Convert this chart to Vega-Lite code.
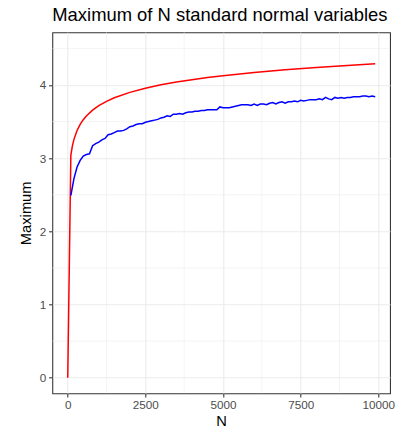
{
  "$schema": "https://vega.github.io/schema/vega-lite/v6.json",
  "width": 337.7,
  "height": 361,
  "autosize": "none",
  "padding": {"left": 52.3, "top": 32.3, "right": 14, "bottom": 38.7},
  "background": "white",
  "title": {
    "text": "Maximum of N standard normal variables",
    "anchor": "start",
    "frame": "group",
    "font": "Liberation Sans",
    "fontSize": 18.4,
    "fontWeight": "normal",
    "color": "black",
    "baseline": "alphabetic",
    "offset": 0,
    "dy": 7
  },
  "config": {
    "view": {"stroke": "#333333", "strokeWidth": 1.07},
    "axis": {
      "domain": false,
      "grid": true,
      "gridColor": "#EBEBEB",
      "gridWidth": 1.07,
      "tickColor": "#333333",
      "tickWidth": 1.07,
      "tickSize": 3.7,
      "labelColor": "#4D4D4D",
      "labelFont": "Liberation Sans",
      "labelFontSize": 11.7,
      "labelPadding": 2.9,
      "labelFlush": false,
      "labelOverlap": false,
      "titleFont": "Liberation Sans",
      "titleFontSize": 14.7,
      "titleFontWeight": "normal",
      "titleColor": "black"
    }
  },
  "datasets": {
    "curves": [
      {"N": 1, "value": 0, "series": "bound"},
      {"N": 101, "value": 3.038, "series": "bound"},
      {"N": 151, "value": 3.168, "series": "bound"},
      {"N": 201, "value": 3.257, "series": "bound"},
      {"N": 301, "value": 3.378, "series": "bound"},
      {"N": 401, "value": 3.462, "series": "bound"},
      {"N": 501, "value": 3.526, "series": "bound"},
      {"N": 601, "value": 3.577, "series": "bound"},
      {"N": 801, "value": 3.657, "series": "bound"},
      {"N": 1001, "value": 3.717, "series": "bound"},
      {"N": 1251, "value": 3.777, "series": "bound"},
      {"N": 1501, "value": 3.825, "series": "bound"},
      {"N": 2001, "value": 3.899, "series": "bound"},
      {"N": 2501, "value": 3.956, "series": "bound"},
      {"N": 3001, "value": 4.002, "series": "bound"},
      {"N": 3501, "value": 4.040, "series": "bound"},
      {"N": 4001, "value": 4.073, "series": "bound"},
      {"N": 4501, "value": 4.102, "series": "bound"},
      {"N": 5001, "value": 4.127, "series": "bound"},
      {"N": 6001, "value": 4.171, "series": "bound"},
      {"N": 7001, "value": 4.208, "series": "bound"},
      {"N": 8001, "value": 4.240, "series": "bound"},
      {"N": 9001, "value": 4.267, "series": "bound"},
      {"N": 9901, "value": 4.290, "series": "bound"},
      {"N": 101, "value": 2.49, "series": "simulated"},
      {"N": 201, "value": 2.72, "series": "simulated"},
      {"N": 301, "value": 2.88, "series": "simulated"},
      {"N": 401, "value": 2.97, "series": "simulated"},
      {"N": 501, "value": 3.03, "series": "simulated"},
      {"N": 601, "value": 3.05, "series": "simulated"},
      {"N": 701, "value": 3.06, "series": "simulated"},
      {"N": 801, "value": 3.17, "series": "simulated"},
      {"N": 901, "value": 3.20, "series": "simulated"},
      {"N": 1001, "value": 3.22, "series": "simulated"},
      {"N": 1101, "value": 3.25, "series": "simulated"},
      {"N": 1201, "value": 3.27, "series": "simulated"},
      {"N": 1301, "value": 3.32, "series": "simulated"},
      {"N": 1401, "value": 3.33, "series": "simulated"},
      {"N": 1501, "value": 3.35, "series": "simulated"},
      {"N": 1601, "value": 3.37, "series": "simulated"},
      {"N": 1701, "value": 3.37, "series": "simulated"},
      {"N": 1801, "value": 3.38, "series": "simulated"},
      {"N": 1901, "value": 3.40, "series": "simulated"},
      {"N": 2001, "value": 3.43, "series": "simulated"},
      {"N": 2101, "value": 3.44, "series": "simulated"},
      {"N": 2201, "value": 3.46, "series": "simulated"},
      {"N": 2301, "value": 3.47, "series": "simulated"},
      {"N": 2401, "value": 3.47, "series": "simulated"},
      {"N": 2501, "value": 3.49, "series": "simulated"},
      {"N": 2601, "value": 3.50, "series": "simulated"},
      {"N": 2701, "value": 3.51, "series": "simulated"},
      {"N": 2801, "value": 3.52, "series": "simulated"},
      {"N": 2901, "value": 3.53, "series": "simulated"},
      {"N": 3001, "value": 3.55, "series": "simulated"},
      {"N": 3101, "value": 3.56, "series": "simulated"},
      {"N": 3201, "value": 3.58, "series": "simulated"},
      {"N": 3301, "value": 3.57, "series": "simulated"},
      {"N": 3401, "value": 3.60, "series": "simulated"},
      {"N": 3501, "value": 3.60, "series": "simulated"},
      {"N": 3601, "value": 3.61, "series": "simulated"},
      {"N": 3701, "value": 3.60, "series": "simulated"},
      {"N": 3801, "value": 3.62, "series": "simulated"},
      {"N": 3901, "value": 3.63, "series": "simulated"},
      {"N": 4001, "value": 3.63, "series": "simulated"},
      {"N": 4101, "value": 3.64, "series": "simulated"},
      {"N": 4201, "value": 3.64, "series": "simulated"},
      {"N": 4301, "value": 3.65, "series": "simulated"},
      {"N": 4401, "value": 3.65, "series": "simulated"},
      {"N": 4501, "value": 3.66, "series": "simulated"},
      {"N": 4601, "value": 3.66, "series": "simulated"},
      {"N": 4701, "value": 3.66, "series": "simulated"},
      {"N": 4801, "value": 3.66, "series": "simulated"},
      {"N": 4901, "value": 3.70, "series": "simulated"},
      {"N": 5001, "value": 3.69, "series": "simulated"},
      {"N": 5101, "value": 3.69, "series": "simulated"},
      {"N": 5201, "value": 3.69, "series": "simulated"},
      {"N": 5301, "value": 3.70, "series": "simulated"},
      {"N": 5401, "value": 3.71, "series": "simulated"},
      {"N": 5501, "value": 3.72, "series": "simulated"},
      {"N": 5601, "value": 3.73, "series": "simulated"},
      {"N": 5701, "value": 3.73, "series": "simulated"},
      {"N": 5801, "value": 3.73, "series": "simulated"},
      {"N": 5901, "value": 3.72, "series": "simulated"},
      {"N": 6001, "value": 3.74, "series": "simulated"},
      {"N": 6101, "value": 3.72, "series": "simulated"},
      {"N": 6201, "value": 3.74, "series": "simulated"},
      {"N": 6301, "value": 3.74, "series": "simulated"},
      {"N": 6401, "value": 3.73, "series": "simulated"},
      {"N": 6501, "value": 3.75, "series": "simulated"},
      {"N": 6601, "value": 3.76, "series": "simulated"},
      {"N": 6701, "value": 3.74, "series": "simulated"},
      {"N": 6801, "value": 3.76, "series": "simulated"},
      {"N": 6901, "value": 3.77, "series": "simulated"},
      {"N": 7001, "value": 3.75, "series": "simulated"},
      {"N": 7101, "value": 3.77, "series": "simulated"},
      {"N": 7201, "value": 3.77, "series": "simulated"},
      {"N": 7301, "value": 3.78, "series": "simulated"},
      {"N": 7401, "value": 3.77, "series": "simulated"},
      {"N": 7501, "value": 3.79, "series": "simulated"},
      {"N": 7601, "value": 3.78, "series": "simulated"},
      {"N": 7701, "value": 3.79, "series": "simulated"},
      {"N": 7801, "value": 3.80, "series": "simulated"},
      {"N": 7901, "value": 3.80, "series": "simulated"},
      {"N": 8001, "value": 3.80, "series": "simulated"},
      {"N": 8101, "value": 3.81, "series": "simulated"},
      {"N": 8201, "value": 3.80, "series": "simulated"},
      {"N": 8301, "value": 3.83, "series": "simulated"},
      {"N": 8401, "value": 3.81, "series": "simulated"},
      {"N": 8501, "value": 3.80, "series": "simulated"},
      {"N": 8601, "value": 3.83, "series": "simulated"},
      {"N": 8701, "value": 3.82, "series": "simulated"},
      {"N": 8801, "value": 3.83, "series": "simulated"},
      {"N": 8901, "value": 3.82, "series": "simulated"},
      {"N": 9001, "value": 3.83, "series": "simulated"},
      {"N": 9101, "value": 3.83, "series": "simulated"},
      {"N": 9201, "value": 3.84, "series": "simulated"},
      {"N": 9301, "value": 3.84, "series": "simulated"},
      {"N": 9401, "value": 3.84, "series": "simulated"},
      {"N": 9501, "value": 3.85, "series": "simulated"},
      {"N": 9601, "value": 3.85, "series": "simulated"},
      {"N": 9701, "value": 3.84, "series": "simulated"},
      {"N": 9801, "value": 3.85, "series": "simulated"},
      {"N": 9901, "value": 3.84, "series": "simulated"}
    ],
    "xminor": [{"N": 1250}, {"N": 3750}, {"N": 6250}, {"N": 8750}],
    "yminor": [{"value": 0.5}, {"value": 1.5}, {"value": 2.5}, {"value": 3.5}, {"value": 4.5}]
  },
  "layer": [
    {
      "data": {"name": "xminor"},
      "mark": {"type": "rule", "color": "#EBEBEB", "strokeWidth": 0.55},
      "encoding": {
        "x": {
          "field": "N", "type": "quantitative", "title": "N",
          "scale": {"domain": [-496, 10377], "nice": false, "zero": false},
          "axis": {"values": [0, 2500, 5000, 7500, 10000], "format": "d", "titlePadding": 2}
        }
      }
    },
    {
      "data": {"name": "yminor"},
      "mark": {"type": "rule", "color": "#EBEBEB", "strokeWidth": 0.55},
      "encoding": {
        "y": {
          "field": "value", "type": "quantitative", "title": "Maximum",
          "scale": {"domain": [-0.213, 4.72], "nice": false, "zero": false},
          "axis": {"values": [0, 1, 2, 3, 4], "format": "d", "titlePadding": 6}
        }
      }
    },
    {
      "data": {"name": "curves"},
      "mark": {"type": "line", "strokeWidth": 1.5},
      "encoding": {
        "x": {
          "field": "N", "type": "quantitative", "title": "N",
          "scale": {"domain": [-496, 10377], "nice": false, "zero": false},
          "axis": {"values": [0, 2500, 5000, 7500, 10000], "format": "d", "titlePadding": 2}
        },
        "y": {
          "field": "value", "type": "quantitative", "title": "Maximum",
          "scale": {"domain": [-0.213, 4.72], "nice": false, "zero": false},
          "axis": {"values": [0, 1, 2, 3, 4], "format": "d", "titlePadding": 6}
        },
        "color": {
          "field": "series", "type": "nominal", "legend": null,
          "scale": {"domain": ["simulated", "bound"], "range": ["#0000FF", "#FF0000"]}
        }
      }
    }
  ]
}
